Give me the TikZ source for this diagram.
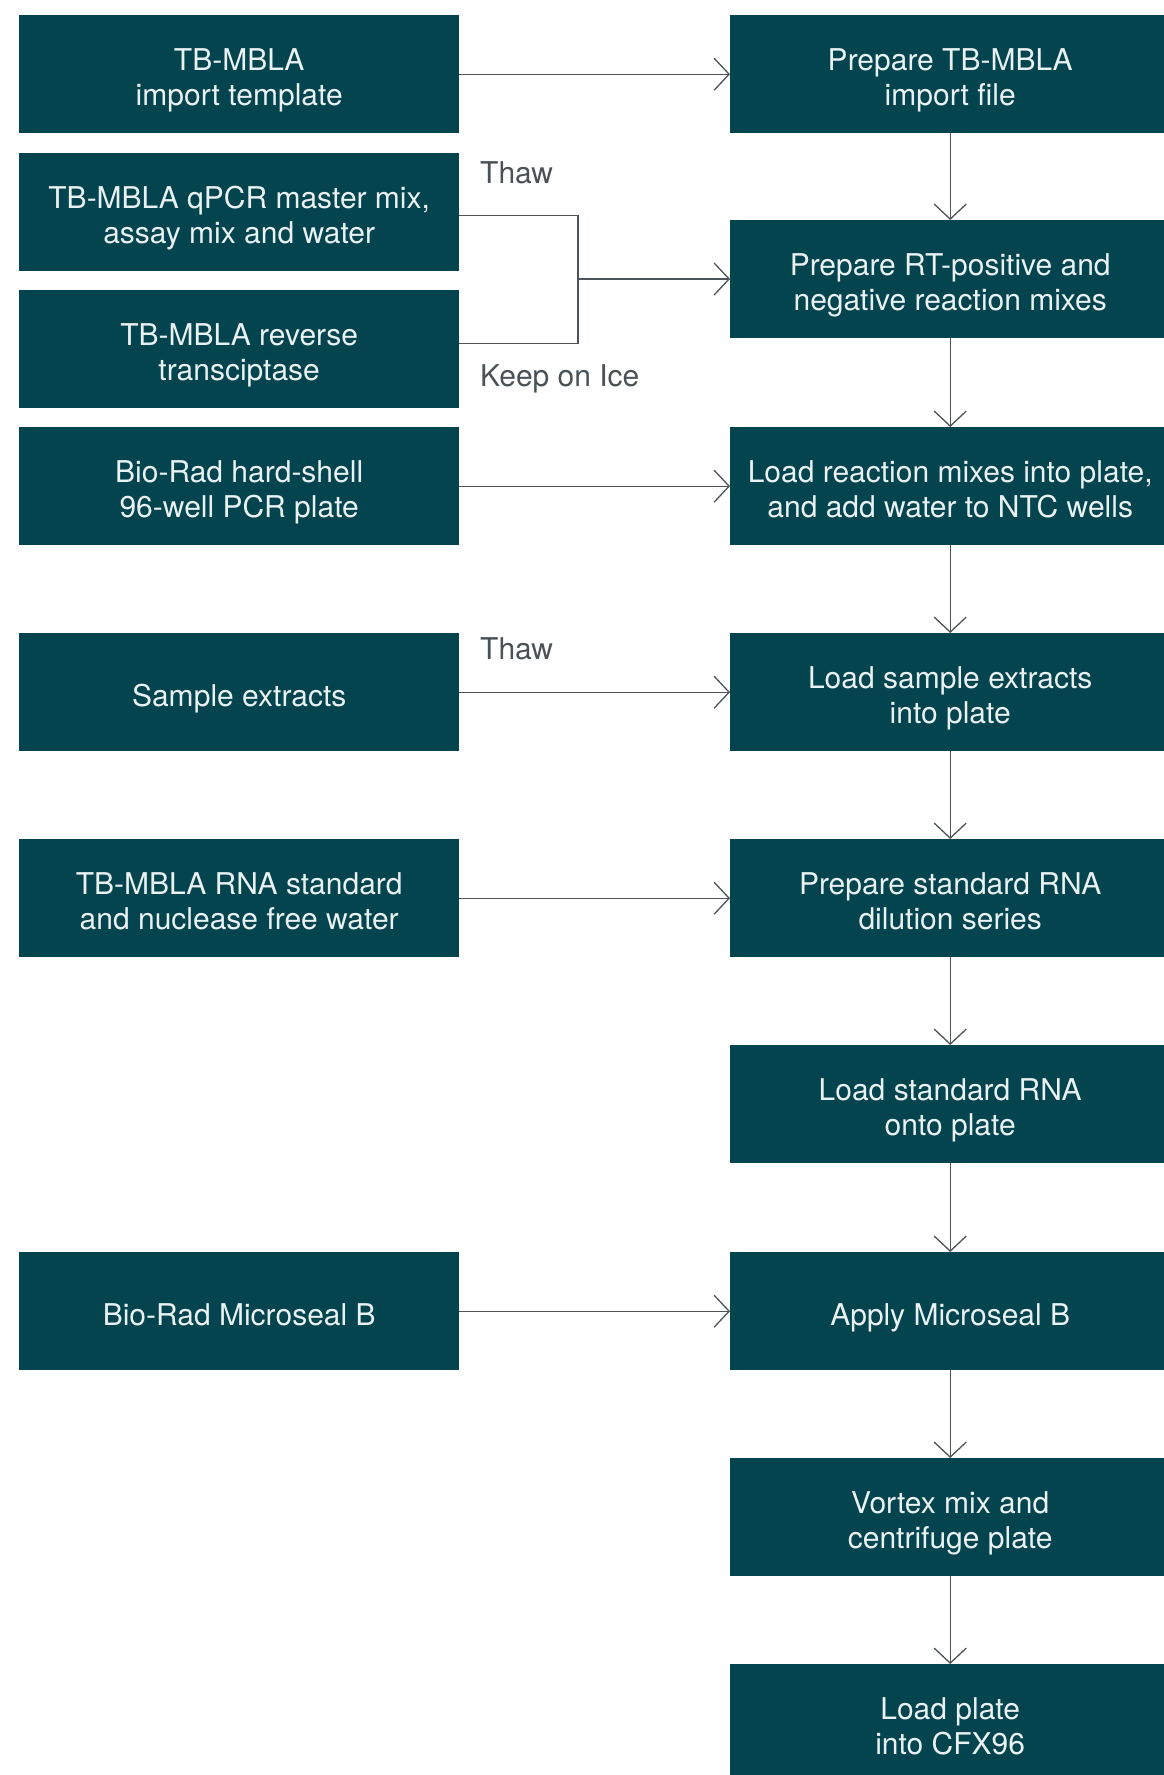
\documentclass[tikz,border=0pt]{standalone}
\usepackage{fontspec}
\setmainfont{TeX Gyre Heros}
\usetikzlibrary{arrows.meta}
\definecolor{boxteal}{HTML}{03444F}
\definecolor{boxtext}{HTML}{EAF1F2}
\definecolor{linegray}{HTML}{4D5359}
\definecolor{labelgray}{HTML}{4A5258}
\newcommand\boxlines[1]{\raisebox{-7pt}[\height][\depth]{\begin{tabular}{@{}c@{}}#1\end{tabular}}}
\tikzset{
  stepbox/.style={fill=boxteal, text=boxtext, minimum width=440pt, minimum height=118pt,
    inner sep=0pt, anchor=north west, font=\fontsize{30}{35}\selectfont},
  conn/.style={draw=linegray, line width=1.3pt},
  arr/.style={conn, -{Straight Barb[length=15pt, width=32pt, line width=1.3pt]}},
  lbl/.style={text=labelgray, anchor=west, inner sep=0pt, font=\fontsize{30}{35}\selectfont}
}
\begin{document}
\begin{tikzpicture}[x=1pt, y=-1pt]
\useasboundingbox (0,0) rectangle (1164,1775);
% left column
\node[stepbox] (l1) at (19,15)   {\boxlines{TB-MBLA\\import template}};
\node[stepbox] (l2) at (19,153)  {\boxlines{TB-MBLA qPCR master mix,\\assay mix and water}};
\node[stepbox] (l3) at (19,290)  {\boxlines{TB-MBLA reverse\\transciptase}};
\node[stepbox] (l4) at (19,427)  {\boxlines{Bio-Rad hard-shell\\96-well PCR plate}};
\node[stepbox] (l5) at (19,633)  {\boxlines{Sample extracts}};
\node[stepbox] (l6) at (19,839)  {\boxlines{TB-MBLA RNA standard\\and nuclease free water}};
\node[stepbox] (l7) at (19,1252) {\boxlines{Bio-Rad Microseal B}};
% right column
\node[stepbox] (r1) at (730,15)   {\boxlines{Prepare TB-MBLA\\import file}};
\node[stepbox] (r2) at (730,220)  {\boxlines{Prepare RT-positive and\\negative reaction mixes}};
\node[stepbox] (r3) at (730,427)  {\boxlines{Load reaction mixes into plate,\\and add water to NTC wells}};
\node[stepbox] (r4) at (730,633)  {\boxlines{Load sample extracts\\into plate}};
\node[stepbox] (r5) at (730,839)  {\boxlines{Prepare standard RNA\\dilution series}};
\node[stepbox] (r6) at (730,1045) {\boxlines{Load standard RNA\\onto plate}};
\node[stepbox] (r7) at (730,1252) {\boxlines{Apply Microseal B}};
\node[stepbox] (r8) at (730,1458) {\boxlines{Vortex mix and\\centrifuge plate}};
\node[stepbox] (r9) at (730,1664) {\boxlines{Load plate\\into CFX96}};
% labels
\node[lbl] (t1) at (480,173) {Thaw};
\node[lbl] (t2) at (480,379) {Keep on Ice};
\node[lbl] (t3) at (480,649) {Thaw};
% horizontal connectors
\draw[arr] (l1.east) -- (r1.west);
\coordinate (j) at (578,279);
\draw[conn] ([yshift=-3pt]l2.east) -| (j);
\draw[conn] ([yshift=6pt]l3.east) -| (j);
\draw[arr] (j) -- (j -| r2.west);
\draw[arr] (l4.east) -- (r3.west);
\draw[arr] (l5.east) -- (r4.west);
\draw[arr] (l6.east) -- (r5.west);
\draw[arr] (l7.east) -- (r7.west);
% vertical connectors
\draw[arr] (r1.south) -- (r2.north);
\draw[arr] (r2.south) -- (r3.north);
\draw[arr] (r3.south) -- (r4.north);
\draw[arr] (r4.south) -- (r5.north);
\draw[arr] (r5.south) -- (r6.north);
\draw[arr] (r6.south) -- (r7.north);
\draw[arr] (r7.south) -- (r8.north);
\draw[arr] (r8.south) -- (r9.north);
\end{tikzpicture}
\end{document}
